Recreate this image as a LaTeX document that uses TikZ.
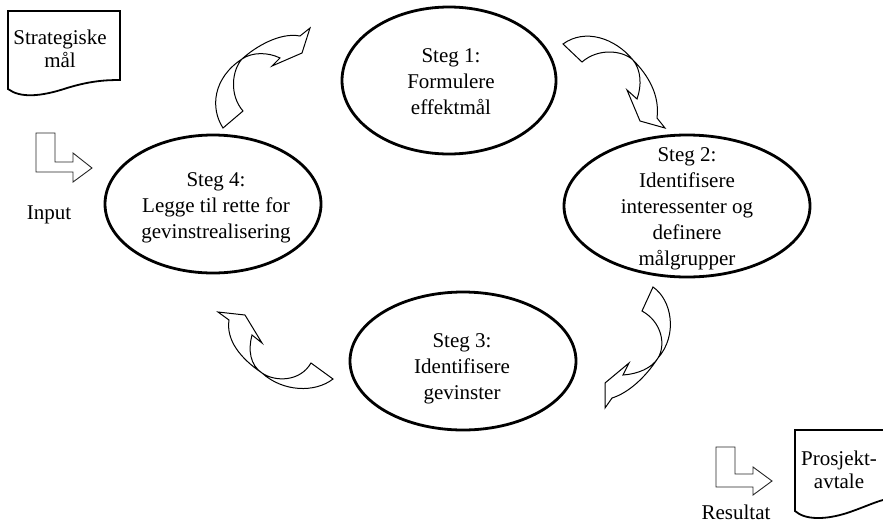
\documentclass[tikz,border=0pt]{standalone}
\usepackage{fontspec}
\setmainfont{Liberation Serif}
\usetikzlibrary{shapes.geometric}
\begin{document}
\begin{tikzpicture}[x=1pt,y=-1pt,
  stage/.style={ellipse, draw, line width=2.8pt, inner sep=0pt},
  stagetext/.style={align=center, inner sep=0pt, font=\fontsize{21}{26}\selectfont},
  doctext/.style={align=center, inner sep=0pt, font=\fontsize{21}{23}\selectfont},
  labeltext/.style={inner sep=0pt, anchor=base, font=\fontsize{21}{26}\selectfont},
  docshape/.style={draw, line width=1.8pt, line join=miter},
  cyclearrow/.style={draw, line width=1pt, fill=white, line join=miter},
  flowarrow/.style={draw=black!85, line width=0.9pt, line join=miter}]
\useasboundingbox (0,0) rectangle (883,523);

% the four steps
\node[stage, minimum width=214pt, minimum height=147pt] (s1) at (449,80.5) {};
\node[stagetext] (s1t) at (451,81.5) {Steg 1:\\Formulere\\effektmål};

\node[stage, minimum width=246pt, minimum height=142pt] (s2) at (687,206) {};
\node[stagetext] (s2t) at (687,208.5) {Steg 2:\\Identifisere\\interessenter og\\definere\\målgrupper};

\node[stage, minimum width=226pt, minimum height=138pt] (s3) at (463,361) {};
\node[stagetext] (s3t) at (462,369) {Steg 3:\\Identifisere\\gevinster};

\node[stage, minimum width=216pt, minimum height=138pt] (s4) at (213,204) {};
\node[stagetext] (s4t) at (216,208) {Steg 4:\\Legge til rette for\\gevinstrealisering};

% curved block arrows between the steps
\path[cyclearrow] (223,128) .. controls (210,108) and (213,78) .. (242,59)
  .. controls (255,47) and (280,32) .. (300,36) -- (310,28) -- (302,53)
  -- (272,66) -- (280,58) .. controls (268,52) and (252,52) .. (242,59)
  .. controls (232,70) and (229,95) .. (243,111) -- cycle;

\path[cyclearrow] (563,44) .. controls (585,28) and (615,38) .. (633,60)
  .. controls (648,75) and (660,95) .. (657,118) -- (665,128) -- (640,121)
  -- (627,90) -- (637,99) .. controls (642,85) and (641,70) .. (633,60)
  .. controls (622,50) and (598,48) .. (582,62) -- cycle;

\path[cyclearrow] (653,287) .. controls (672,300) and (678,335) .. (658,358)
  .. controls (645,378) and (628,393) .. (612,398) -- (605,408) -- (605,383)
  -- (629,363) -- (623,375) .. controls (638,374) and (652,368) .. (658,358)
  .. controls (666,345) and (662,322) .. (642,311) -- cycle;

\path[cyclearrow] (333,379) .. controls (315,393) and (283,392) .. (262,373)
  .. controls (240,358) and (226,340) .. (229,320) -- (218,312) -- (245,315)
  -- (262,343) -- (252,335) .. controls (248,350) and (250,365) .. (262,373)
  .. controls (275,382) and (300,382) .. (311,363) -- cycle;

% input document
\path[docshape] (8,89) -- (8,11) -- (120,11) -- (120,80)
  .. controls (105,80) and (90,81) .. (67,88)
  .. controls (40,97) and (20,98) .. (8,89) -- cycle;
\node[doctext] (goal) at (60,48.5) {Strategiske\\mål};

% input arrow
\path[flowarrow] (36,133) -- (55,133) -- (55,162) -- (73,162) -- (73,153)
  -- (92,168) -- (73,182) -- (73,172) -- (36,172) -- cycle;
\node[labeltext] (input) at (49,219) {Input};

% result document (runs off the right edge)
\path[docshape] (883,430) -- (795,430) -- (795,511)
  .. controls (805,520) and (825,520) .. (847,513)
  .. controls (862,508) and (875,502) .. (883,500);
\node[doctext] (contract) at (839,469.5) {Prosjekt-\\avtale};

% result arrow
\path[flowarrow] (716,447) -- (735,447) -- (735,474) -- (753,474) -- (753,467)
  -- (772,481) -- (753,495) -- (753,487) -- (716,487) -- cycle;
\node[labeltext] (result) at (736,519) {Resultat};
\end{tikzpicture}
\end{document}
